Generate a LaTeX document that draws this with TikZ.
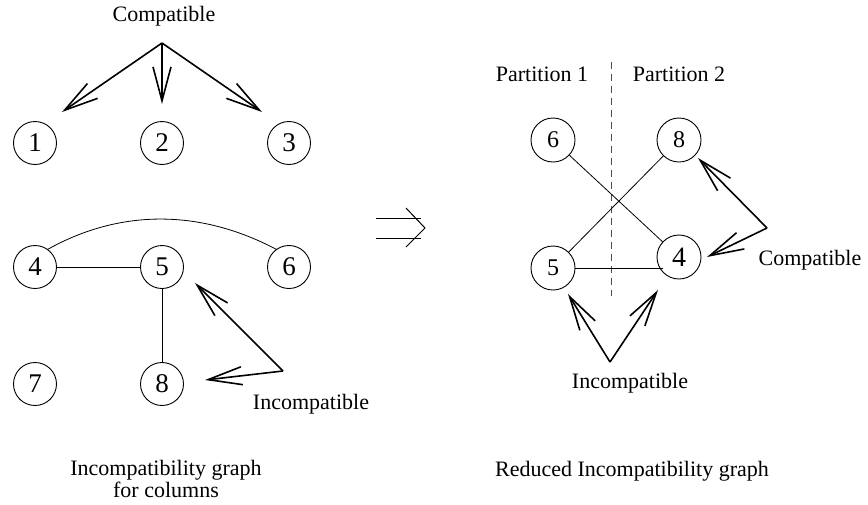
\documentclass[tikz,border=0pt]{standalone}
\usepackage{fontspec}
\setmainfont{Liberation Serif}
\usetikzlibrary{arrows.meta}
\begin{document}
\begin{tikzpicture}[x=1pt,y=-1pt,
  vertex/.style={circle,draw,line width=0.9pt,minimum size=43pt,inner sep=0pt,
    font=\fontsize{27}{29}\selectfont},
  rvertex/.style={vertex,minimum size=44pt,font=\fontsize{24}{26}\selectfont},
  link/.style={line width=0.8pt},
  pointer/.style={line width=1.6pt,-{Straight Barb[length=34pt,width=18pt]}},
  txt/.style={font=\fontsize{22}{22}\selectfont,inner sep=0pt,align=center},
  divider/.style={line width=0.9pt,draw=black!70,dash pattern=on 7pt off 5pt},
]
\useasboundingbox (0,0) rectangle (868,504);

% ---- incompatibility graph for columns ----
\node[vertex] (l1) at (35,143) {1};
\node[vertex] (l2) at (162,143) {2};
\node[vertex] (l3) at (289,143) {3};
\node[vertex] (l4) at (35,267) {4};
\node[vertex] (l5) at (162,267) {5};
\node[vertex] (l6) at (289,267) {6};
\node[vertex] (l7) at (35,384) {7};
\node[vertex] (l8) at (162,384) {8};

\draw[link] (l4) -- (l5);
\draw[link] (l5) -- (l8);
\draw[link] (l4.54) .. controls (120,209) and (200,209) .. (l6.126);

\node[txt] (lcomp) at (164,16) {Compatible};
\coordinate (lcapex) at (162,43);
\coordinate (lc1) at (62,112);
\coordinate (lc2) at (162,104);
\coordinate (lc3) at (262,112);
\draw[pointer] (lcapex) -- (lc1);
\draw[pointer] (lcapex) -- (lc2);
\draw[pointer] (lcapex) -- (lc3);

\node[txt] (linc) at (311,404) {Incompatible};
\coordinate (liapex) at (283,371);
\coordinate (li1) at (195,283);
\coordinate (li2) at (205,380);
\draw[pointer] (liapex) -- (li1);
\draw[pointer] (liapex) -- (li2);

\node[txt] (lcap) at (166,479) {Incompatibility graph\\for columns};

% ---- implication sign ----
\coordinate (ia) at (376,218);
\coordinate (ib) at (421,218);
\coordinate (ic) at (376,238);
\coordinate (id) at (421,238);
\coordinate (it) at (425,228);
\coordinate (iu) at (406,208);
\coordinate (iv) at (406,247);
\draw[line width=1pt] (ia) -- (ib);
\draw[line width=1pt] (ic) -- (id);
\draw[line width=1pt] (iu) -- (it) -- (iv);

% ---- reduced incompatibility graph ----
\coordinate (dtop) at (611,62);
\coordinate (dbot) at (611,296);
\draw[divider] (dtop) -- (dbot);
\node[txt] (p1) at (542,74) {Partition 1};
\node[txt] (p2) at (679,74) {Partition 2};

\node[rvertex] (r6) at (553,140) {6};
\node[rvertex] (r8) at (679,140) {8};
\node[rvertex] (r5) at (553,268) {5};
\node[rvertex,font=\fontsize{28}{30}\selectfont] (r4) at (679,257) {4};

\draw[link] (r6) -- (r4);
\draw[link] (r8) -- (r5);
\draw[link] (r5.east) -- (r4.south west |- r5.east);

\node[txt] (rcomp) at (810,260) {Compatible};
\coordinate (rcapex) at (767,228);
\coordinate (rc1) at (698,158);
\coordinate (rc2) at (707,257);
\draw[pointer] (rcapex) -- (rc1);
\draw[pointer] (rcapex) -- (rc2);

\node[txt] (rinc) at (630,383) {Incompatible};
\coordinate (riapex) at (610,362);
\coordinate (ri1) at (568,294);
\coordinate (ri2) at (658,290);
\draw[pointer] (riapex) -- (ri1);
\draw[pointer] (riapex) -- (ri2);

\node[txt] (rcap) at (632,471) {Reduced Incompatibility graph};
\end{tikzpicture}
\end{document}
